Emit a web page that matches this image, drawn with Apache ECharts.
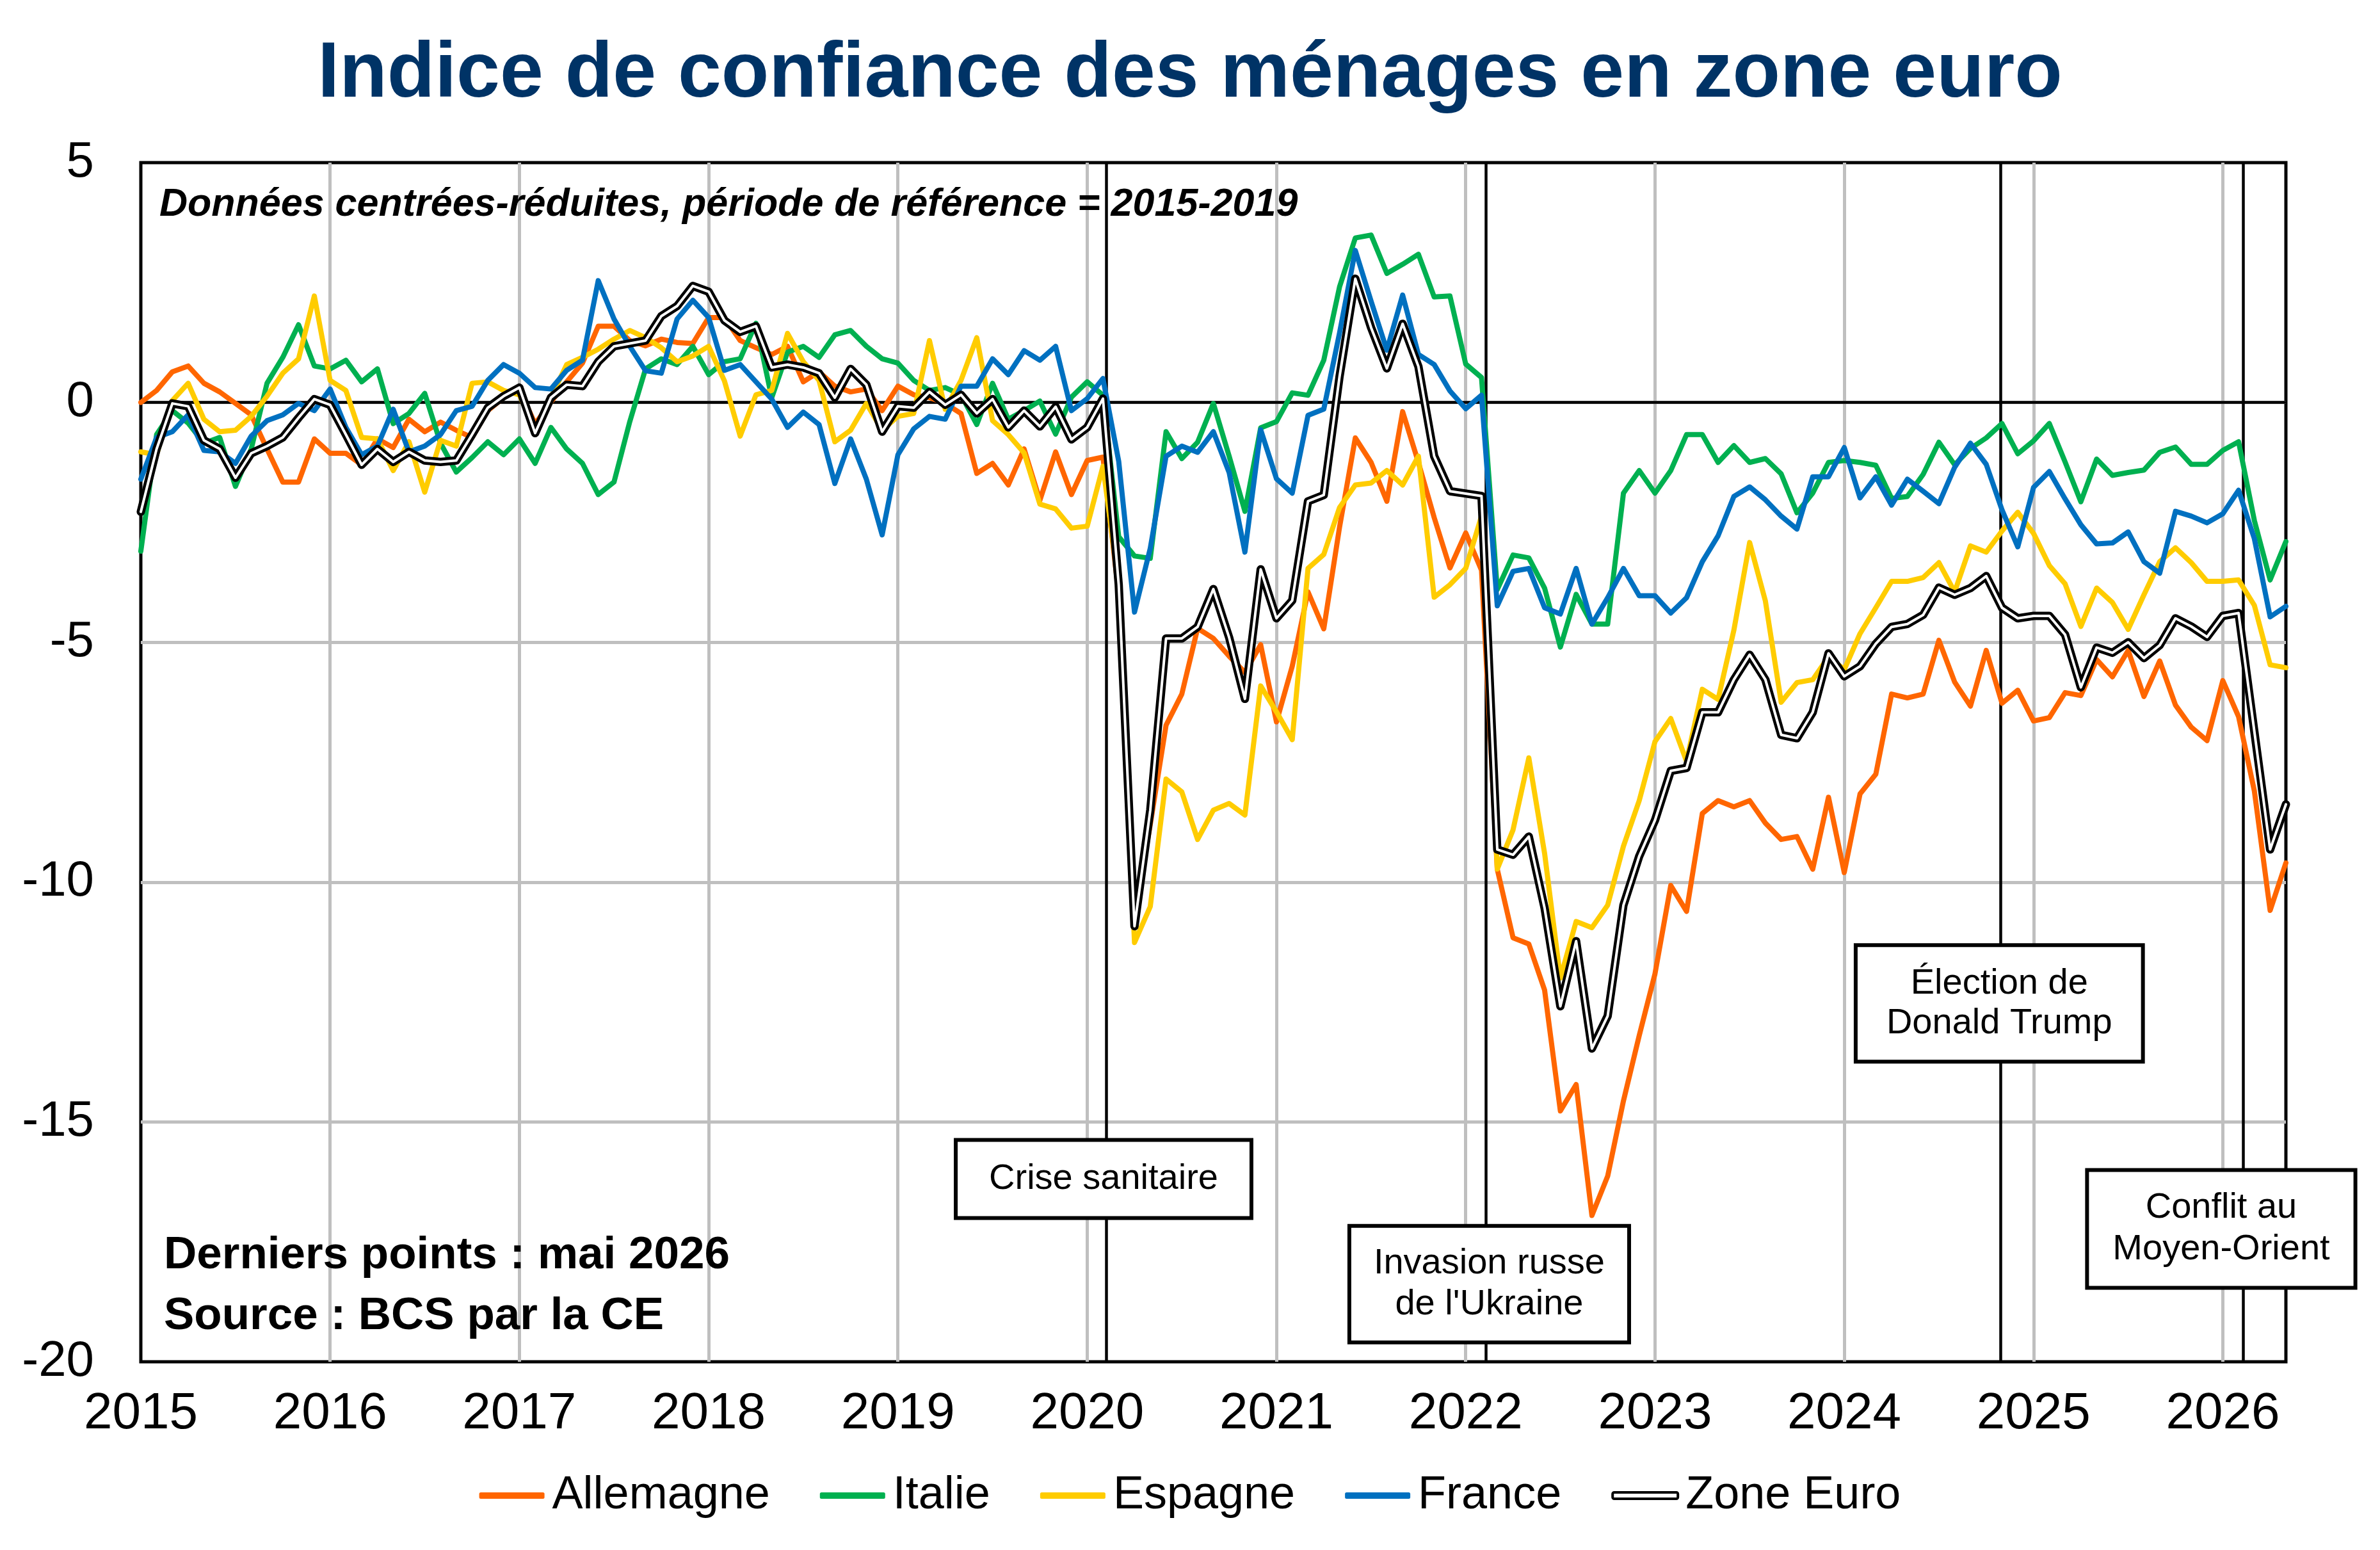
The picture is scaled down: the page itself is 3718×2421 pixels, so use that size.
<!DOCTYPE html>
<html>
<head>
<meta charset="utf-8">
<title>Indice de confiance des ménages en zone euro</title>
<script src="https://cdn.jsdelivr.net/npm/echarts/dist/echarts.min.js"></script>
<style>
  html, body { margin: 0; padding: 0; background: #fff; }
  #chart { width: 3718px; height: 2421px; }
</style>
</head>
<body>
<div id="chart"></div>
<script>
// axe x : mois écoulés depuis janvier 2015 (0 = janv. 2015 ... 136 = mai 2026)
const years = ['2015', '2016', '2017', '2018', '2019', '2020', '2021', '2022', '2023', '2024', '2025', '2026'];

const allemagne = [
  0.0, 0.25, 0.64, 0.76, 0.40, 0.22, -0.02, -0.26, -0.97, -1.66, -1.66, -0.76,
  -1.06, -1.06, -1.30, -0.76, -0.94, -0.35, -0.61, -0.41, -0.58, -0.73, -0.17, 0.10,
  0.28, -0.45, 0.01, 0.43, 0.82, 1.59, 1.59, 1.29, 1.18, 1.32, 1.25, 1.23,
  1.77, 1.77, 1.29, 1.14, 1.00, 1.17, 0.43, 0.64, 0.34, 0.22, 0.28, -0.17,
  0.34, 0.16, 0.10, -0.02, -0.23, -1.48, -1.27, -1.72, -0.97, -2.04, -1.03, -1.92,
  -1.21, -1.14, -4.0, -10.7, -8.8, -6.73, -6.08, -4.71, -4.92, -5.29, -5.63, -5.05,
  -6.66, -5.50, -3.95, -4.72, -2.6, -0.74, -1.25, -2.06, -0.19, -1.25, -2.40, -3.45,
  -2.72, -3.50, -9.73, -11.16, -11.29, -12.25, -14.77, -14.22, -16.95, -16.13, -14.56, -13.20,
  -11.91, -10.07, -10.61, -8.57, -8.30, -8.43, -8.30, -8.77, -9.11, -9.05, -9.73, -8.23,
  -9.80, -8.16, -7.75, -6.08, -6.16, -6.08, -4.96, -5.83, -6.33, -5.17, -6.27, -6.00,
  -6.64, -6.57, -6.05, -6.11, -5.36, -5.72, -5.17, -6.13, -5.39, -6.31, -6.77, -7.05,
  -5.80, -6.55, -8.10, -10.59, -9.60
];

const italie = [
  -3.1, -0.67, -0.17, -0.43, -0.85, -0.73, -1.75, -0.97, 0.40, 0.94, 1.62, 0.76,
  0.70, 0.88, 0.43, 0.70, -0.44, -0.23, 0.19, -0.85, -1.45, -1.15, -0.82, -1.09,
  -0.76, -1.27, -0.52, -0.97, -1.27, -1.92, -1.66, -0.40, 0.70, 0.91, 0.79, 1.17,
  0.58, 0.85, 0.91, 1.65, 0.10, 1.05, 1.17, 0.94, 1.41, 1.50, 1.17, 0.91,
  0.82, 0.46, 0.25, 0.31, 0.16, -0.46, 0.40, -0.35, -0.17, 0.03, -0.66, 0.11,
  0.43, 0.15, -2.8, -3.2, -3.25, -0.61, -1.17, -0.83, -0.02, -1.12, -2.27, -0.53,
  -0.40, 0.20, 0.15, 0.88, 2.41, 3.43, 3.49, 2.69, 2.88, 3.09, 2.20, 2.22,
  0.80, 0.52, -3.90, -3.18, -3.24, -3.87, -5.10, -4.00, -4.62, -4.62, -1.89, -1.42,
  -1.89, -1.42, -0.67, -0.67, -1.25, -0.90, -1.25, -1.17, -1.49, -2.30, -1.89, -1.25,
  -1.21, -1.25, -1.31, -2.00, -1.96, -1.50, -0.83, -1.30, -0.96, -0.74, -0.44, -1.07,
  -0.80, -0.44, -1.24, -2.07, -1.18, -1.52, -1.46, -1.41, -1.04, -0.93, -1.29, -1.29,
  -1.00, -0.82, -2.46, -3.70, -2.90
];

const espagne = [
  -1.03, -1.09, 0.04, 0.40, -0.35, -0.61, -0.58, -0.29, 0.13, 0.61, 0.91, 2.22,
  0.46, 0.25, -0.73, -0.76, -1.42, -0.82, -1.87, -0.79, -0.91, 0.40, 0.43, 0.25,
  0.16, -0.58, 0.10, 0.79, 0.94, 1.11, 1.32, 1.50, 1.35, 1.14, 0.85, 0.97,
  1.17, 0.45, -0.70, 0.16, 0.25, 1.44, 0.85, 0.46, -0.82, -0.58, -0.02, -0.58,
  -0.29, -0.23, 1.29, -0.14, 0.46, 1.35, -0.38, -0.67, -1.05, -2.12, -2.22, -2.62,
  -2.58, -1.33, -3.8, -11.26, -10.51, -7.85, -8.12, -9.11, -8.50, -8.36, -8.60, -5.91,
  -6.45, -7.03, -3.46, -3.17, -2.19, -1.72, -1.68, -1.42, -1.72, -1.12, -4.06, -3.80,
  -3.46, -2.37, -9.73, -8.91, -7.41, -9.40, -12.00, -10.82, -10.95, -10.48, -9.25, -8.30,
  -7.07, -6.59, -7.48, -5.98, -6.19, -4.75, -2.92, -4.14, -6.25, -5.84, -5.78, -5.30,
  -5.57, -4.82, -4.28, -3.73, -3.73, -3.65, -3.34, -3.95, -2.99, -3.12, -2.68, -2.29,
  -2.73, -3.40, -3.78, -4.67, -3.87, -4.17, -4.73, -4.01, -3.32, -3.03, -3.34, -3.73,
  -3.73, -3.70, -4.23, -5.47, -5.53
];

const france = [
  -1.60, -0.73, -0.61, -0.26, -1.00, -1.03, -1.27, -0.70, -0.38, -0.26, -0.02, -0.17,
  0.28, -0.52, -1.09, -0.91, -0.14, -1.03, -0.91, -0.67, -0.17, -0.08, 0.46, 0.79,
  0.61, 0.31, 0.28, 0.67, 0.88, 2.54, 1.74, 1.17, 0.66, 0.61, 1.74, 2.13,
  1.77, 0.67, 0.79, 0.43, 0.07, -0.52, -0.20, -0.46, -1.69, -0.76, -1.60, -2.76,
  -1.09, -0.55, -0.29, -0.35, 0.34, 0.34, 0.91, 0.58, 1.08, 0.88, 1.17, -0.17,
  0.08, 0.50, -1.23, -4.37, -3.04, -1.12, -0.91, -1.04, -0.61, -1.46, -3.12, -0.57,
  -1.59, -1.89, -0.27, -0.14, 1.45, 3.17, 2.11, 1.09, 2.24, 1.00, 0.79, 0.24,
  -0.13, 0.15, -4.24, -3.52, -3.46, -4.28, -4.41, -3.46, -4.62, -4.07, -3.46, -4.03,
  -4.03, -4.39, -4.07, -3.32, -2.78, -1.96, -1.76, -2.03, -2.37, -2.64, -1.55, -1.55,
  -0.94, -1.99, -1.55, -2.14, -1.60, -1.85, -2.11, -1.35, -0.85, -1.29, -2.24, -3.01,
  -1.77, -1.44, -2.01, -2.55, -2.95, -2.93, -2.70, -3.32, -3.56, -2.27, -2.37, -2.51,
  -2.32, -1.83, -2.84, -4.47, -4.25
];

const zoneEuro = [
  -2.28, -0.97, -0.02, -0.08, -0.79, -0.97, -1.57, -1.06, -0.91, -0.73, -0.32, 0.07,
  -0.05, -0.67, -1.30, -0.97, -1.24, -1.03, -1.21, -1.24, -1.21, -0.67, -0.11, 0.13,
  0.31, -0.64, 0.10, 0.37, 0.34, 0.85, 1.17, 1.23, 1.29, 1.80, 2.01, 2.43,
  2.31, 1.71, 1.47, 1.59, 0.73, 0.79, 0.73, 0.61, 0.10, 0.70, 0.37, -0.61,
  -0.08, -0.11, 0.22, -0.05, 0.16, -0.23, 0.07, -0.52, -0.17, -0.50, -0.09, -0.77,
  -0.52, 0.08, -3.80, -10.92, -8.50, -4.92, -4.92, -4.68, -3.89, -4.90, -6.18, -3.48,
  -4.50, -4.13, -2.06, -1.93, 0.54, 2.58, 1.56, 0.71, 1.64, 0.75, -1.12, -1.85,
  -1.90, -1.95, -9.32, -9.43, -9.05, -10.54, -12.59, -11.23, -13.47, -12.79, -10.48, -9.46,
  -8.71, -7.68, -7.62, -6.46, -6.46, -5.78, -5.26, -5.78, -6.93, -7.00, -6.46, -5.23,
  -5.71, -5.50, -5.03, -4.68, -4.62, -4.43, -3.86, -4.01, -3.87, -3.62, -4.28, -4.50,
  -4.45, -4.45, -4.84, -5.94, -5.11, -5.22, -5.00, -5.33, -5.06, -4.50, -4.67, -4.89,
  -4.45, -4.39, -6.86, -9.32, -8.38
];

// événements (en mois depuis janv. 2015)
const eventMonths = [61.2, 85.27, 117.9, 133.3];
const eventLabels = ['Crise sanitaire', "Invasion russe\nde l'Ukraine", 'Élection de\nDonald Trump', 'Conflit au\nMoyen-Orient'];

const FONT = '"Liberation Sans", Arial, Helvetica, sans-serif';

function toPoints(values) {
  return values.map((v, i) => [i, v]);
}

function lineSerie(name, values, color, width) {
  return {
    name: name,
    type: 'line',
    data: toPoints(values),
    showSymbol: false,
    symbol: 'none',
    silent: true,
    z: 2,
    lineStyle: { color: color, width: width, cap: 'round', join: 'round' },
    itemStyle: { color: color },
    emphasis: { disabled: true }
  };
}

// encadrés : ancrage (x en mois, y en valeur) et marges intérieures
const boxes = [
  { coord: [61.04, -16.19], padding: [26, 49], lineHeight: 64 },
  { coord: [85.49, -18.38], padding: [24, 35], lineHeight: 64 },
  { coord: [117.83, -12.53], padding: [26, 45], lineHeight: 62 },
  { coord: [131.9, -17.23], padding: [24, 37], lineHeight: 65 }
];

const chart = echarts.init(document.getElementById('chart'));

const series = [
  lineSerie('Allemagne', allemagne, '#FF6600', 8),
  lineSerie('Italie', italie, '#00B050', 8),
  lineSerie('Espagne', espagne, '#FFCC00', 8),
  lineSerie('France', france, '#0070C0', 8),
  lineSerie('Zone Euro', zoneEuro, '#000000', 13),
  lineSerie('Zone Euro (centre)', zoneEuro, '#FFFFFF', 4)
];

// traits verticaux des événements + ligne du zéro, sous les courbes
series[0].markLine = {
  silent: true,
  symbol: 'none',
  z: 1,
  animation: false,
  label: { show: false },
  lineStyle: { color: '#000', width: 4.5, type: 'solid' },
  data: [{ yAxis: 0, lineStyle: { color: '#000', width: 4.5, type: 'solid' } }]
    .concat(eventMonths.map(m => ({ xAxis: m })))
};

// encadrés de texte au-dessus des courbes
series[5].markPoint = {
  silent: true,
  symbol: 'rect',
  symbolSize: 1,
  z: 20,
  animation: false,
  itemStyle: { color: 'rgba(0,0,0,0)' },
  data: boxes.map((b, i) => ({
    coord: b.coord,
    label: {
      show: true,
      position: 'inside',
      formatter: eventLabels[i],
      fontFamily: FONT,
      fontSize: 56,
      lineHeight: b.lineHeight,
      color: '#000',
      align: 'center',
      backgroundColor: '#fff',
      borderColor: '#000',
      borderWidth: 6,
      padding: b.padding
    }
  }))
};

const option = {
  animation: false,
  backgroundColor: '#fff',
  textStyle: { fontFamily: FONT },
  title: [
    {
      text: 'Indice de confiance des ménages en zone euro',
      left: 'center',
      top: 51,
      textStyle: { fontFamily: FONT, fontSize: 122, lineHeight: 122, fontWeight: 'bold', color: '#003366' }
    },
    {
      text: 'Données centrées-réduites, période de référence = 2015-2019',
      left: 244,
      top: 285,
      textStyle: { fontFamily: FONT, fontSize: 61, lineHeight: 61, fontWeight: 'bold', fontStyle: 'italic', color: '#000' }
    },
    {
      text: 'Derniers points : mai 2026\nSource : BCS par la CE',
      left: 251,
      top: 1909,
      textStyle: { fontFamily: FONT, fontSize: 71, lineHeight: 95, fontWeight: 'bold', color: '#000' }
    }
  ],
  grid: {
    left: 220,
    right: 147,
    top: 254,
    bottom: 294,
    show: true,
    borderColor: '#000',
    borderWidth: 5,
    backgroundColor: 'rgba(0,0,0,0)'
  },
  legend: {
    data: [
      { name: 'Allemagne' },
      { name: 'Italie' },
      { name: 'Espagne' },
      { name: 'France' },
      { name: 'Zone Euro', itemStyle: { color: '#fff', borderColor: '#000', borderWidth: 4 } }
    ],
    left: 'center',
    top: 2291,
    icon: 'roundRect',
    itemWidth: 102,
    itemHeight: 10,
    itemGap: 78,
    selectedMode: false,
    itemStyle: { borderWidth: 0 },
    textStyle: { fontFamily: FONT, fontSize: 72, lineHeight: 80, color: '#000', padding: [0, 0, 0, 7] }
  },
  xAxis: {
    type: 'value',
    min: 0,
    max: 136,
    interval: 12,
    axisLine: { show: false },
    axisTick: { show: false },
    splitLine: { show: true, showMinLine: false, showMaxLine: false, lineStyle: { color: '#BFBFBF', width: 5 } },
    axisLabel: {
      fontFamily: FONT,
      fontSize: 80,
      lineHeight: 80,
      color: '#000',
      margin: 42,
      formatter: v => (v % 12 === 0 ? years[v / 12] : '')
    }
  },
  yAxis: {
    type: 'value',
    min: -20,
    max: 5,
    interval: 5,
    axisLine: { show: false },
    axisTick: { show: false },
    splitLine: { show: true, showMinLine: false, showMaxLine: false, lineStyle: { color: '#BFBFBF', width: 5 } },
    axisLabel: { fontFamily: FONT, fontSize: 78, color: '#000', margin: 73 }
  },
  series: series
};

chart.setOption(option);
</script>
</body>
</html>
